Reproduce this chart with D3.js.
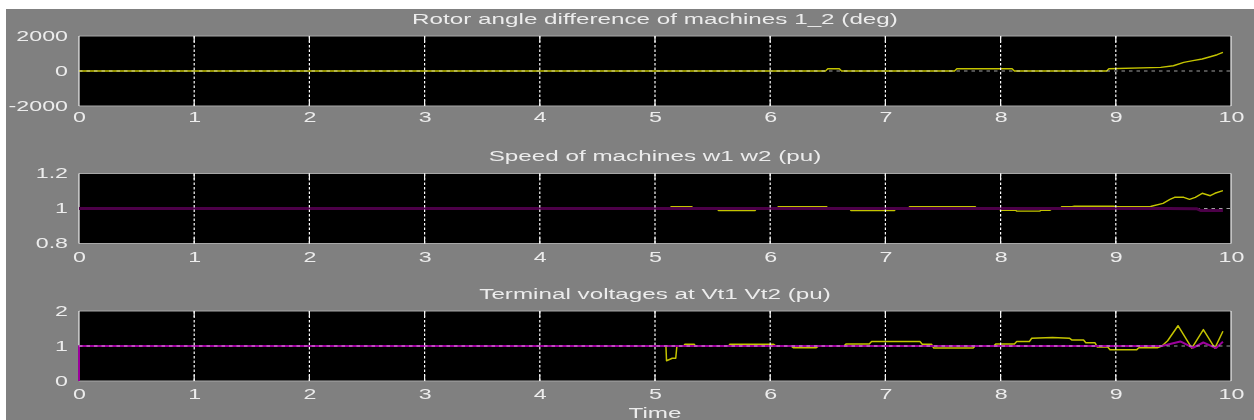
<!DOCTYPE html>
<html>
<head>
<meta charset="utf-8">
<script src="https://cdn.jsdelivr.net/npm/d3@7"></script>
<style>
  html, body { margin: 0; padding: 0; background: #fff; }
  svg { display: block; }
  text { font-family: "Liberation Sans", Arial, sans-serif; }
</style>
</head>
<body>
<svg id="chart" width="1254" height="420"></svg>
<script>
// scope-style 3-panel plot
const timeTicks = [0, 1, 2, 3, 4, 5, 6, 7, 8, 9, 10];

// rotor angle difference of machines 1_2 (deg)
const angleT = [0, 6.48, 6.5, 6.6, 6.62, 7.6, 7.62, 8.1, 8.12, 8.92, 8.94, 9.39, 9.5, 9.59, 9.67, 9.75, 9.82, 9.88, 9.93];
const angleV = [0, 0, 130, 130, 0, 0, 130, 130, 0, 0, 130, 210, 300, 495, 590, 685, 815, 930, 1065];

// speed w1 (yellow) and w2 (magenta), pu
const w1T = [0, 5.13, 5.14, 5.32, 5.33, 5.54, 5.55, 5.87, 5.88, 6.06, 6.07, 6.49, 6.5, 6.69, 6.7, 7.08, 7.09, 7.2,
  7.21, 7.78, 7.79, 7.98, 8.0, 8.13, 8.14, 8.34, 8.35, 8.43, 8.45, 8.52, 8.53, 8.62, 8.64, 8.98, 9.0, 9.3,
  9.31, 9.41, 9.47, 9.51, 9.59, 9.64, 9.69, 9.75, 9.82, 9.86, 9.93];
const w1V = [1, 1, 1.011, 1.011, 1, 1, 0.989, 0.989, 1, 1, 1.011, 1.011, 1, 1, 0.989, 0.989, 1, 1,
  1.011, 1.011, 1, 1, 0.99, 0.99, 0.985, 0.985, 0.99, 0.99, 1, 1, 1.011, 1.011, 1.013, 1.013, 1.01, 1.01,
  1.013, 1.029, 1.052, 1.064, 1.064, 1.052, 1.064, 1.087, 1.073, 1.087, 1.102];
const w2T = [0, 9.45, 9.7, 9.74, 9.93];
const w2V = [1, 1, 0.999, 0.988, 0.988];

// terminal voltages Vt1 (yellow) and Vt2 (magenta), pu
const vt1T = [0, 5.095, 5.1, 5.15, 5.18, 5.19, 5.25, 5.26, 5.34, 5.35, 5.64, 5.65, 6.03, 6.05, 6.18, 6.2, 6.4, 6.42,
  6.64, 6.66, 6.86, 6.88, 7.3, 7.32, 7.4, 7.42, 7.76, 7.78, 7.94, 7.96, 8.12, 8.14, 8.25, 8.27, 8.45, 8.6,
  8.62, 8.72, 8.74, 8.82, 8.84, 8.93, 8.95, 9.18, 9.2, 9.36, 9.4, 9.45, 9.54, 9.66, 9.76, 9.86, 9.93];
const vt1V = [1, 1, 0.58, 0.65, 0.65, 1, 1, 1.05, 1.05, 1, 1, 1.05, 1.05, 1, 1, 0.95, 0.95, 1,
  1, 1.06, 1.06, 1.13, 1.13, 1.05, 1.05, 0.94, 0.94, 1, 1, 1.06, 1.06, 1.13, 1.13, 1.22, 1.24, 1.22,
  1.17, 1.17, 1.09, 1.09, 0.97, 0.97, 0.89, 0.89, 0.95, 0.95, 1, 1.15, 1.58, 0.94, 1.47, 0.94, 1.42];
const vt2T = [0, 0, 9.4, 9.56, 9.67, 9.76, 9.87, 9.93];
const vt2V = [0, 1, 1, 1.13, 0.95, 1.1, 0.94, 1.12];

const titles = [
  "Rotor angle difference of machines 1_2 (deg)",
  "Speed of machines w1 w2 (pu)",
  "Terminal  voltages at Vt1 Vt2 (pu)"
];
const yDomains = [[-2000, 2000], [0.8, 1.2], [0, 2]];
const yTicks = [[-2000, 0, 2000], [0.8, 1, 1.2], [0, 1, 2]];
const xLabel = "Time";

const W = 1254, H = 420;
const STRETCH = 1.66;   // the screenshot text is stretched sideways
const TEXT = "#ececec";
const YELLOW = "#c4c400";

const svg = d3.select("#chart");
svg.append("rect").attr("x", 6).attr("y", 9).attr("width", W - 6).attr("height", H - 9).attr("fill", "#808080");

const x = d3.scaleLinear().domain([0, 10]).range([79, 1231]);

const panels = [
  { top: 36, pad: 6, gridOnTop: true,
    series: [{ t: angleT, v: angleV, color: YELLOW, width: 1.4 }] },
  { top: 173.5, pad: 9, gridOnTop: false,
    series: [{ t: w1T, v: w1V, color: YELLOW, width: 1.4 },
             { t: w2T, v: w2V, color: "#4c0048", width: 3 }] },
  { top: 311, pad: 8, gridOnTop: true,
    series: [{ t: vt1T, v: vt1V, color: YELLOW, width: 1.5 },
             { t: vt2T, v: vt2V, color: "#9c009c", width: 2 }] }
];
const PH = 70;

panels.forEach((p, i) => {
  const y = d3.scaleLinear().domain(yDomains[i]).range([p.top + PH, p.top]);
  const g = svg.append("g");
  const [x0, x1] = x.range();

  g.append("rect").attr("x", x0).attr("y", p.top).attr("width", x1 - x0).attr("height", PH).attr("fill", "#000");

  // frame (drawn under the traces so the Vt2 start edge shows)
  g.append("line").attr("x1", x0).attr("x2", x1).attr("y1", p.top).attr("y2", p.top)
    .attr("stroke", "#a8a8a8").attr("stroke-width", 1.2);
  g.append("line").attr("x1", x0).attr("x2", x1).attr("y1", p.top + PH).attr("y2", p.top + PH)
    .attr("stroke", "#a8a8a8").attr("stroke-width", 1.2);
  g.append("line").attr("x1", x0).attr("x2", x0).attr("y1", p.top).attr("y2", p.top + PH)
    .attr("stroke", "#f0f0f0").attr("stroke-width", 1.2);
  g.append("line").attr("x1", x1).attr("x2", x1).attr("y1", p.top).attr("y2", p.top + PH)
    .attr("stroke", "#f0f0f0").attr("stroke-width", 1.2);

  const clipId = "clip" + i;
  svg.append("clipPath").attr("id", clipId)
    .append("rect").attr("x", x0 - 1).attr("y", p.top - 1).attr("width", x1 - x0 + 1).attr("height", PH + 2);

  const midGrid = (sel) => sel.append("line")
    .attr("x1", x0).attr("x2", x1)
    .attr("y1", y(yTicks[i][1])).attr("y2", y(yTicks[i][1]))
    .attr("stroke", "#a0a0a0").attr("stroke-width", 1).attr("stroke-dasharray", "3.5,4");

  if (!p.gridOnTop) midGrid(g);

  const line = d3.line().x((d) => x(d[0])).y((d) => y(d[1]));
  const lines = g.append("g").attr("clip-path", `url(#${clipId})`);
  p.series.forEach((s) => {
    lines.append("path")
      .datum(d3.zip(s.t, s.v))
      .attr("d", line)
      .attr("fill", "none")
      .attr("stroke", s.color)
      .attr("stroke-width", s.width)
      .attr("stroke-linejoin", "round");
  });

  if (p.gridOnTop) midGrid(g).style("mix-blend-mode", "screen");

  // dotted vertical grid + short solid ticks top and bottom
  g.selectAll(".vgrid").data(timeTicks.slice(1, -1)).join("line")
    .attr("x1", (d) => x(d)).attr("x2", (d) => x(d))
    .attr("y1", p.top).attr("y2", p.top + PH)
    .attr("stroke", "#ffffff").attr("stroke-width", 1.2).attr("stroke-dasharray", "2.5,2");
  g.selectAll(".tkt").data(timeTicks.slice(1, -1)).join("line")
    .attr("x1", (d) => x(d)).attr("x2", (d) => x(d))
    .attr("y1", p.top).attr("y2", p.top + 6)
    .attr("stroke", "#f4f4f4").attr("stroke-width", 1.2);
  g.selectAll(".tkb").data(timeTicks.slice(1, -1)).join("line")
    .attr("x1", (d) => x(d)).attr("x2", (d) => x(d))
    .attr("y1", p.top + PH - 6).attr("y2", p.top + PH)
    .attr("stroke", "#f4f4f4").attr("stroke-width", 1.2);

  // axes (labels only)
  const xa = g.append("g").attr("transform", `translate(0,${p.top + PH})`)
    .call(d3.axisBottom(x).tickValues(timeTicks).tickSize(0).tickPadding(p.pad).tickFormat((d) => String(d)));
  const ya = g.append("g").attr("transform", `translate(${x0},0)`)
    .call(d3.axisLeft(y).tickValues(yTicks[i]).tickSize(0).tickPadding(11).tickFormat((d) => String(d)));
  [xa, ya].forEach((a) => {
    a.select(".domain").remove();
    a.attr("font-family", null).attr("font-size", null);
    a.selectAll("text")
      .attr("font-size", 14)
      .attr("fill", TEXT)
      .attr("transform", `scale(${STRETCH},1)`);
  });
  // undo the stretch on the label offset so right edges stay at the padding
  ya.selectAll("text").attr("x", -11 / STRETCH);

  svg.append("text")
    .attr("transform", `translate(${(x0 + x1) / 2},${p.top - 12.5}) scale(${STRETCH},1)`)
    .attr("text-anchor", "middle")
    .attr("font-size", 14.6)
    .attr("fill", TEXT)
    .text(titles[i]);
});

svg.append("text")
  .attr("transform", `translate(${(x.range()[0] + x.range()[1]) / 2},${311 + PH + 37}) scale(${STRETCH},1)`)
  .attr("text-anchor", "middle")
  .attr("font-size", 14.6)
  .attr("fill", TEXT)
  .text(xLabel);
</script>
</body>
</html>
